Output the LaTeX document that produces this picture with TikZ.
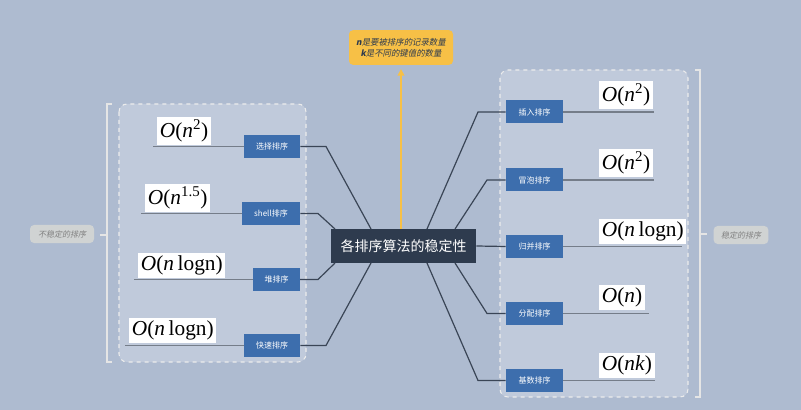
\documentclass[tikz,border=0pt]{standalone}
\usepackage{fontspec}
\setmainfont{Liberation Serif}
\newfontfamily\cjk{Noto Sans CJK SC}
\newfontfamily\cjki[FakeSlant=0.2]{Noto Sans CJK SC}
\usetikzlibrary{arrows.meta}
\definecolor{bg}{HTML}{AEBBD0}
\definecolor{panel}{HTML}{C0CADB}
\definecolor{dark}{HTML}{2E3B4E}
\definecolor{blu}{HTML}{3D6EAD}
\definecolor{yel}{HTML}{F7C046}
\definecolor{gbox}{HTML}{D0D3D3}
\definecolor{conn}{HTML}{3A4556}
\tikzset{
 x=0.75pt,y=-0.75pt,
 topic/.style={fill=blu,text=white,font=\cjk\fontsize{6}{7}\selectfont,minimum height=17.25pt,inner sep=1pt},
 formula/.style={fill=white,inner sep=2pt,font=\fontsize{16}{17}\selectfont,anchor=south west},
 uline/.style={draw=conn!70,line width=0.9pt},
 conline/.style={draw=conn,line width=0.9pt},
 pan/.style={draw=white!85!gray,dashed,fill=panel,rounded corners=6pt,line width=0.8pt},
 brk/.style={draw=white!80!gray,line width=0.8pt},
 glabel/.style={fill=gbox,rounded corners=3pt,text=gray,font=\cjki\fontsize{6}{7}\selectfont,inner sep=2pt,minimum height=13.5pt}
}
\newcommand{\On}[1]{\textit{O}(\textit{n}#1)}
\begin{document}
\begin{tikzpicture}
\useasboundingbox[fill=bg] (0,0) rectangle (801,410);
% panels
\draw[pan] (119,104) rectangle (306,362);
\draw[pan] (500,70) rectangle (688,397);
% brackets
\draw[brk] (112,104) -- (107,104) -- (107,362) -- (112,362);
\draw[brk] (107,235) -- (100,235);
\draw[brk] (695,70) -- (700,70) -- (700,397) -- (695,397);
\draw[brk] (700,234) -- (707,234);
\node[glabel,minimum width=48pt] (uns) at (62,234) {不稳定的排序};
\node[glabel,minimum width=41pt] (sta) at (741,235) {稳定的排序};
% center
\node[fill=dark,text=white,font=\cjk\fontsize{10.5}{12}\selectfont,minimum width=109pt,minimum height=25.5pt] (c) at (403.5,246) {各排序算法的稳定性};
% note
\node[fill=yel,rounded corners=3pt,font=\cjki\fontsize{6.3}{8}\selectfont,text=dark,align=center,minimum width=78pt,minimum height=26pt,inner sep=1pt] (note) at (401,47.5) {\textbf{n}是要被排序的记录数量\\\textbf{k}是不同的键值的数量};
\coordinate (ntip) at (401,69);
\draw[yel,line width=1.2pt,-{Triangle[length=5pt,width=5pt]}] (401,229) -- (ntip);
% left topics
\node[topic,minimum width=42pt] (t1) at (272,146.5) {选择排序};
\node[topic,minimum width=43.5pt] (t2) at (271,213.5) {shell排序};
\node[topic,minimum width=35pt] (t3) at (276.5,279.5) {堆排序};
\node[topic,minimum width=42pt] (t4) at (272,345.5) {快速排序};
\draw[uline] (t1.west) -- (153,146.5); \node[formula] (f1) at (157,145) {\On{\textsuperscript{2}}};
\draw[uline] (t2.west) -- (141,213.5); \node[formula] (f2) at (145,212) {\On{\textsuperscript{1.5}}};
\draw[uline] (t3.west) -- (134,279.5); \node[formula] (f3) at (138,278) {\On{\,logn}};
\draw[uline] (t4.west) -- (125,345.5); \node[formula] (f4) at (129,343) {\On{\,logn}};
\draw[conline] (t1.east) -- (326,146.5) -- (371,229);
\draw[conline] (t2.east) -- (318,213.5) -- (335,229);
\draw[conline] (t3.east) -- (318,279.5) -- (335,263);
\draw[conline] (t4.east) -- (326,345.5) -- (371,263);
% right topics
\node[topic,minimum width=42.75pt] (r1) at (534.5,112) {插入排序};
\node[topic,minimum width=42.75pt] (r2) at (534.5,180) {冒泡排序};
\node[topic,minimum width=42.75pt] (r3) at (534.5,246.5) {归并排序};
\node[topic,minimum width=42.75pt] (r4) at (534.5,313.5) {分配排序};
\node[topic,minimum width=42.75pt] (r5) at (534.5,380.5) {基数排序};
\draw[uline] (r1.east) -- (654,112); \node[formula] (g1) at (599,109) {\On{\textsuperscript{2}}};
\draw[uline] (r2.east) -- (654,180); \node[formula] (g2) at (599,177) {\On{\textsuperscript{2}}};
\draw[uline] (r3.east) -- (682,246.5); \node[formula] (g3) at (599,244) {\On{\,logn}};
\draw[uline] (r4.east) -- (649,313.5); \node[formula] (g4) at (599,310) {\On{}};
\draw[uline] (r5.east) -- (655,380.5); \node[formula] (g5) at (599,378) {\On{\textit{k}}};
\draw[conline] (427,229) -- (478,112) -- (r1.west);
\draw[conline] (455,229) -- (487,180) -- (r2.west);
\draw[conline] (c.east) -- (r3.west);
\draw[conline] (455,263) -- (487,313.5) -- (r4.west);
\draw[conline] (427,263) -- (478,380.5) -- (r5.west);
\end{tikzpicture}
\end{document}
